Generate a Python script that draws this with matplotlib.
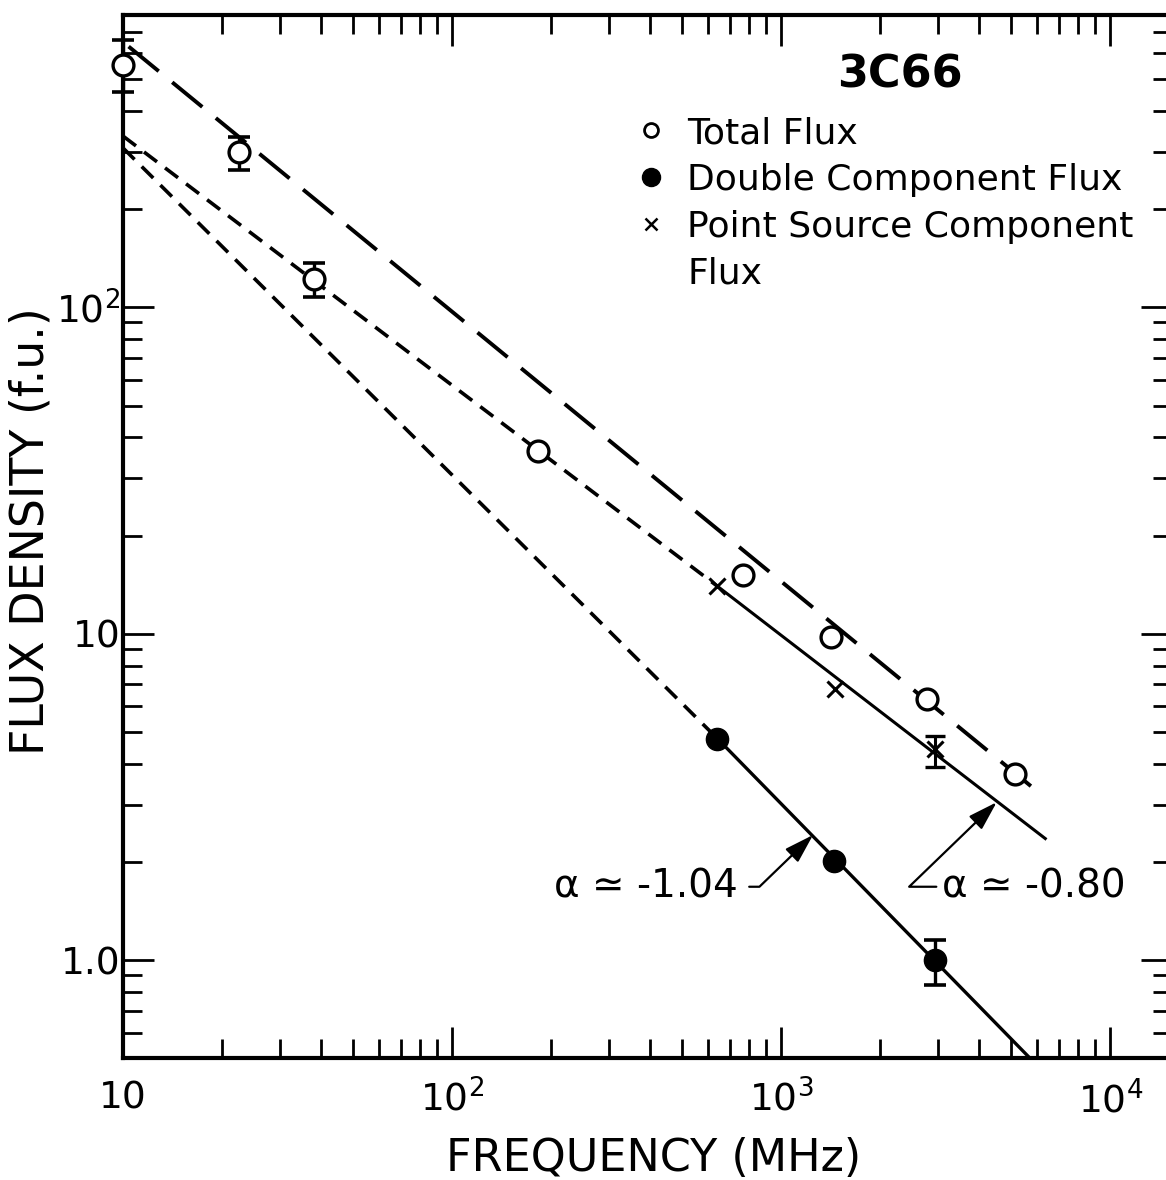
import numpy as np
import matplotlib.pyplot as plt
from matplotlib.lines import Line2D
from matplotlib.ticker import FixedLocator, FixedFormatter, NullFormatter, LogLocator

plt.rcParams['font.family'] = ['DejaVu Sans']
plt.rcParams['mathtext.fontset'] = 'dejavusans'

# 3C66 spectrum, values
total_x = [10, 22.5, 38, 182, 765, 1420, 2780, 5140]
total_y = [553, 300, 122, 36.2, 15.1, 9.8, 6.3, 3.73]
total_lo = [458, 264, 108]   # error bars on first three points
total_hi = [661, 333, 137]

double_x = [640, 1450, 2940]
double_y = [4.78, 2.02, 1.0]
double_lo = [0.84]           # error bar on last point
double_hi = [1.15]

point_x = [640, 1460, 2940]
point_y = [14.0, 6.8, 4.45]
point_lo = [3.92]
point_hi = [4.87]

# fitted spectra (end points)
fit_total_x = [10.4, 6100]
fit_total_y = [630, 3.25]
fit_point_ext_x = [10, 640]
fit_point_ext_y = [335, 14.0]
fit_point_x = [640, 6350]
fit_point_y = [14.0, 2.36]
fit_double_ext_x = [10, 640]
fit_double_ext_y = [308, 4.78]
fit_double_x = [640, 5720]
fit_double_y = [4.78, 0.5]

x_ticks = [10, 100, 1000, 10000]
x_labels = ['10', r'$10^2$', r'$10^3$', r'$10^4$']
y_ticks = [1, 10, 100]
y_labels = ['1.0', '10', r'$10^2$']

fig = plt.figure(figsize=(11.66, 11.8), dpi=100)
ax = fig.add_axes([0.1055, 0.1034, 0.8997, 0.8839])
ax.set_xscale('log')
ax.set_yscale('log')
ax.set_xlim(10, 15420)
ax.set_ylim(0.502, 787)

# fit lines
ax.plot(fit_total_x, fit_total_y, color='black', lw=2.8, dashes=(10, 4.5))
ax.plot(fit_point_ext_x, fit_point_ext_y, color='black', lw=2.6, dashes=(4.5, 2.8))
ax.plot(fit_point_x, fit_point_y, color='black', lw=2.2)
ax.plot(fit_double_ext_x, fit_double_ext_y, color='black', lw=2.6, dashes=(4.5, 2.8))
ax.plot(fit_double_x, fit_double_y, color='black', lw=2.4)

# error bars
n = len(total_lo)
ax.errorbar(total_x[:n], total_y[:n],
            yerr=[np.array(total_y[:n]) - total_lo, np.array(total_hi) - total_y[:n]],
            fmt='none', ecolor='black', elinewidth=2.4, capsize=8, capthick=2.6,
            zorder=3, clip_on=False)
ax.errorbar(double_x[-1:], double_y[-1:],
            yerr=[np.array(double_y[-1:]) - double_lo, np.array(double_hi) - double_y[-1:]],
            fmt='none', ecolor='black', elinewidth=2.4, capsize=8, capthick=2.6, zorder=3)
ax.errorbar(point_x[-1:], point_y[-1:],
            yerr=[np.array(point_y[-1:]) - point_lo, np.array(point_hi) - point_y[-1:]],
            fmt='none', ecolor='black', elinewidth=2.2, capsize=7, capthick=2.4, zorder=3)

# data points
ax.plot(total_x, total_y, 'o', ms=15, mfc='white', mec='black', mew=2.4, zorder=5,
        clip_on=False)
ax.plot(double_x, double_y, 'o', ms=16, mfc='black', mec='black', zorder=5)
ax.plot(point_x, point_y, 'x', ms=11, mec='black', mew=2.2, zorder=5)

# spectral index labels
ax.annotate('α ≃ -1.04', xy=(1250, 2.42), xytext=(740, 1.68),
            ha='right', va='center', fontsize=28,
            arrowprops=dict(arrowstyle='-|>,head_length=0.45,head_width=0.14',
                            mutation_scale=40, color='black', lw=1.6,
                            connectionstyle='angle,angleA=0,angleB=44,rad=0',
                            relpos=(1, 0.5), shrinkA=6, shrinkB=0))
ax.annotate('α ≃ -0.80', xy=(4520, 3.05), xytext=(3080, 1.68),
            ha='left', va='center', fontsize=28,
            arrowprops=dict(arrowstyle='-|>,head_length=0.45,head_width=0.14',
                            mutation_scale=40, color='black', lw=1.6,
                            connectionstyle='angle,angleA=0,angleB=44,rad=0',
                            relpos=(0, 0.5), shrinkA=2, shrinkB=0))

# title and legend
ax.text(0.741, 0.942, '3C66', transform=ax.transAxes, ha='center', va='center',
        fontsize=32, fontweight='bold')
handles = [
    Line2D([], [], ls='none', marker='o', ms=10, mfc='white', mec='black', mew=2),
    Line2D([], [], ls='none', marker='o', ms=13, mfc='black', mec='black'),
    Line2D([], [], ls='none', marker='x', ms=9, mec='black', mew=1.8),
    Line2D([], [], ls='none'),
]
labels = ['Total Flux', 'Double Component Flux', 'Point Source Component', 'Flux']
ax.legend(handles, labels, loc='upper left', bbox_to_anchor=(633 / 1166, 1 - 116 / 1180),
          bbox_transform=fig.transFigure, frameon=False, fontsize=26,
          handlelength=1.0, handletextpad=0.5, labelspacing=0.36,
          borderpad=0, borderaxespad=0)

# axes styling
ax.xaxis.set_major_locator(FixedLocator(x_ticks))
ax.xaxis.set_major_formatter(FixedFormatter(x_labels))
ax.xaxis.set_minor_locator(LogLocator(base=10, subs=np.arange(2, 10), numticks=20))
ax.xaxis.set_minor_formatter(NullFormatter())
ax.yaxis.set_major_locator(FixedLocator(y_ticks))
ax.yaxis.set_major_formatter(FixedFormatter(y_labels))
ax.yaxis.set_minor_locator(LogLocator(base=10, subs=np.arange(2, 10), numticks=20))
ax.yaxis.set_minor_formatter(NullFormatter())

ax.tick_params(which='both', direction='in', top=True, right=True, width=2, labelsize=27)
ax.tick_params(which='major', length=22)
ax.tick_params(which='minor', length=14)
ax.tick_params(axis='x', which='major', pad=16)
ax.tick_params(axis='y', which='major', pad=2)
for s in ax.spines.values():
    s.set_linewidth(3)

ax.set_xlabel('FREQUENCY (MHz)', fontsize=32, va='center')
ax.xaxis.set_label_coords(0.506, -0.096)
ax.set_ylabel('FLUX DENSITY (f.u.)', fontsize=33, va='center')
ax.yaxis.set_label_coords(-0.088, 0.505)

fig.savefig('out.png', dpi=100)
